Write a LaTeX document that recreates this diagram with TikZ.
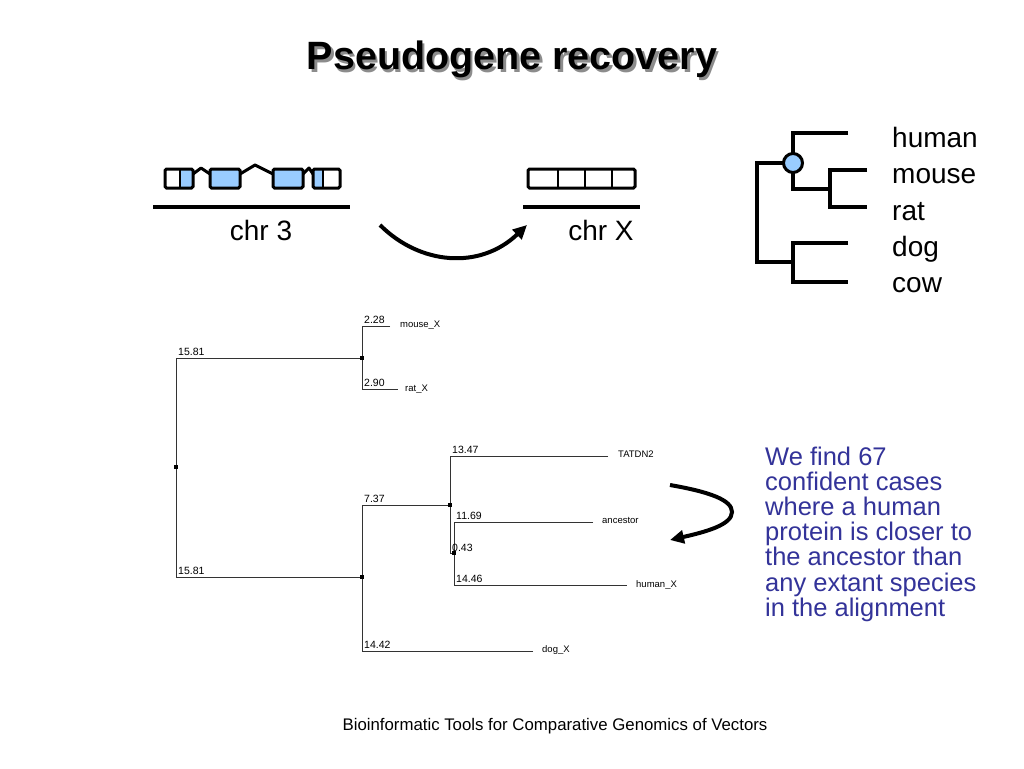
\documentclass[tikz,border=0pt]{standalone}
\usepackage{fontspec}
\setmainfont{Liberation Sans}
\usetikzlibrary{arrows.meta}
\definecolor{exonblue}{HTML}{99CCFF}
\definecolor{txtblue}{HTML}{333399}
\definecolor{treegray}{HTML}{333333}
\definecolor{shadowgray}{HTML}{8C8C8C}
\newcommand{\shadowtext}[1]{\rlap{\hspace{2.5pt}\raisebox{-2.5pt}{\textcolor{shadowgray}{#1}}}#1}
\begin{document}
\begin{tikzpicture}[x=1pt,y=-1pt,
  exon/.style={draw=black,line width=3pt,rounded corners=1.5pt},
  intron/.style={draw=black,line width=3pt,line join=round},
  chrom/.style={draw=black,line width=4pt},
  sptree/.style={draw=black,line width=4pt,line join=miter},
  bigarrow/.style={draw=black,line width=4pt,-{Triangle[length=14pt,width=13pt]}},
  gtree/.style={draw=treegray,line width=1pt},
  gnode/.style={fill=black,minimum size=4pt,inner sep=0pt,outer sep=0pt},
  blabel/.style={font=\fontsize{10.5}{12}\selectfont,inner sep=0pt,anchor=base west},
  leaf/.style={font=\fontsize{9.5}{11}\selectfont,inner sep=0pt,anchor=west},
  bigtext/.style={font=\fontsize{28}{32}\selectfont,inner sep=0pt},
  sp/.style={font=\fontsize{28}{32}\selectfont,inner sep=0pt,anchor=base west},
  titlefont/.style={font=\fontsize{39.5}{44}\selectfont\bfseries,inner sep=0pt,anchor=base}
]
\useasboundingbox[fill=white] (0,0) rectangle (1024,768);

% title
\node[titlefont] (title) at (512,69.5) {\shadowtext{Pseudogene recovery}};

% chr 3 gene structure
\fill[white] (165,169) rectangle (180,188);
\fill[exonblue] (180,169) rectangle (193,188);
\draw[exon] (165,169) rectangle (193,188);
\draw[black,line width=2.5pt] (180,169) -- (180,188);
\draw[intron] (193,174) -- (201,168) -- (210,174);
\draw[exon,fill=exonblue] (210,169) rectangle (240,188);
\draw[intron] (240,174) -- (255,165) -- (273,174);
\draw[exon,fill=exonblue] (273,169) rectangle (303,188);
\draw[intron] (303,174) -- (309,168) -- (313,174);
\fill[exonblue] (313,169) rectangle (323,188);
\fill[white] (323,169) rectangle (340,188);
\draw[exon] (313,169) rectangle (340,188);
\draw[black,line width=2.5pt] (323,169) -- (323,188);
\draw[chrom] (153,207) -- (350,207);
\node[bigtext,anchor=base] (chr3) at (261,240) {chr 3};

% chr X
\draw[exon,fill=white] (528,169) rectangle (635,188);
\draw[black,line width=2.5pt] (558,169) -- (558,188) (585,169) -- (585,188) (612,169) -- (612,188);
\draw[chrom] (523,207) -- (640,207);
\node[bigtext,anchor=base] (chrX) at (601,240) {chr X};

% transfer arrow
\coordinate (a1s) at (380,225);
\coordinate (a1e) at (527,225);
\draw[bigarrow] (a1s) .. controls (420,265) and (480,270) .. (a1e);

% species tree
\coordinate (root) at (757,163);
\coordinate (hm) at (793,163);
\coordinate (dc) at (793,262);
\draw[sptree] (848,133) -- (793,133) -- (793,189) -- (830,189);
\draw[sptree] (867,170) -- (830,170) -- (830,207) -- (867,207);
\draw[sptree] (hm) -- (root) -- (757,262) -- (dc);
\draw[sptree] (848,243) -- (793,243) -- (793,282) -- (848,282);
\node[circle,draw=black,line width=3pt,fill=exonblue,minimum size=19pt,inner sep=0pt] (anc) at (hm) {};
\node[sp] (human) at (892,147) {human};
\node[sp] (mouse) at (892,183) {mouse};
\node[sp] (rat) at (892,220) {rat};
\node[sp] (dog) at (892,256) {dog};
\node[sp] (cow) at (892,292) {cow};

% gene tree
\draw[gtree] (362,358) -- (176,358) -- (176,577) -- (362,577);
\draw[gtree] (390,326) -- (362,326) -- (362,389) -- (398,389);
\draw[gtree] (533,651) -- (362,651) -- (362,505) -- (450,505);
\draw[gtree] (608,456) -- (450,456) -- (450,553) -- (454,553);
\draw[gtree] (593,522) -- (454,522) -- (454,585) -- (627,585);
\node[gnode] (g0) at (176,467) {};
\node[gnode] (g1) at (362,358) {};
\node[gnode] (g2) at (362,577) {};
\node[gnode] (g3) at (450,505) {};
\node[gnode] (g4) at (454,553) {};
\node[blabel] at (178,355) {15.81};
\node[blabel] at (178,574) {15.81};
\node[blabel] at (364,323) {2.28};
\node[blabel] at (364,386) {2.90};
\node[blabel] at (364,502) {7.37};
\node[blabel] at (364,648) {14.42};
\node[blabel] at (452,453) {13.47};
\node[blabel] at (456,519) {11.69};
\node[blabel] at (452,551) {0.43};
\node[blabel] at (456,582) {14.46};
\node[leaf] (mouseX) at (400,325) {mouse\_X};
\node[leaf] (ratX) at (405,389) {rat\_X};
\node[leaf] (tatdn) at (618,454) {TATDN2};
\node[leaf] (ancestor) at (602,520) {ancestor};
\node[leaf] (humanX) at (636,585) {human\_X};
\node[leaf] (dogX) at (542,650) {dog\_X};

% second arrow
\coordinate (a2s) at (670,485);
\coordinate (a2m) at (732,512);
\coordinate (a2e) at (670,540);
\draw[bigarrow] (a2s) .. controls (710,492) and (732,500) .. (a2m) .. controls (732,525) and (705,532) .. (a2e);

% blue text
\node[inner sep=0pt,anchor=north west,align=left,text=txtblue,
  font=\fontsize{25.5}{25.2}\selectfont] (note) at (765,446.5)
  {We find 67\\confident cases\\where a human\\protein is closer to\\the ancestor than\\any extant species\\in the alignment};

% footer
\node[inner sep=0pt,anchor=base,font=\fontsize{16.8}{20}\selectfont] (footer) at (555,730)
  {Bioinformatic Tools for Comparative Genomics of Vectors};
\end{tikzpicture}
\end{document}
